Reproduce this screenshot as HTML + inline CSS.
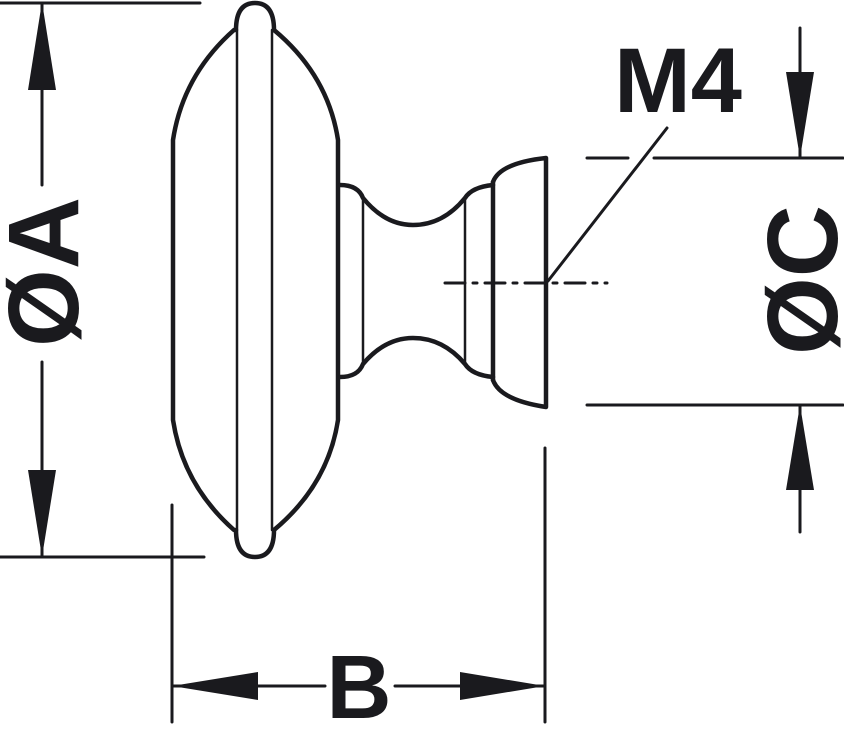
<!DOCTYPE html>
<html><head><style>html,body{margin:0;padding:0;background:#fff}svg{display:block}</style></head>
<body>
<svg width="844" height="730" viewBox="0 0 844 730" xmlns="http://www.w3.org/2000/svg">
<g fill="none" stroke="#1a1a1e" stroke-linecap="round" stroke-linejoin="round">
<g stroke-width="3">
<line x1="0" y1="3" x2="200" y2="3"/>
<line x1="0" y1="557" x2="204" y2="557"/>
<line x1="172" y1="505" x2="172" y2="722"/>
<line x1="545" y1="448" x2="545" y2="722"/>
<line x1="587" y1="158" x2="628" y2="158"/>
<line x1="654" y1="158" x2="843" y2="158"/>
<line x1="587" y1="405" x2="843" y2="405"/>
<line x1="42" y1="3" x2="42" y2="185"/>
<line x1="42" y1="362" x2="42" y2="557"/>
<line x1="172" y1="686" x2="325" y2="686"/>
<line x1="395" y1="686" x2="545" y2="686"/>
<line x1="800" y1="28" x2="800" y2="158"/>
<line x1="800" y1="405" x2="800" y2="532"/>
<line x1="548" y1="281" x2="667" y2="128"/>
<line x1="445" y1="283" x2="607" y2="283" stroke-dasharray="20,8,4,8"/>
</g>
<g stroke-width="4.5">
<path d="M234,30 Q183,75 173,140 L173,420 Q183,485 234,530"/>
<path d="M274,30 Q328,75 338,140 L338,420 Q328,485 274,530"/>
<path d="M236,30 Q236,3 255,3 Q274,3 274,30"/>
<path d="M236,530 Q236,557 255,557 Q274,557 274,530"/>
<path d="M340,185 Q358,185 363,198 Q385,225 413,225 Q443,225 465,198 Q472,187 493,185"/>
<path d="M340,377 Q358,377 363,364 Q385,338 413,338 Q443,338 465,364 Q472,375 493,377"/>
<line x1="493" y1="182" x2="493" y2="380"/>
<path d="M493,182 Q500,163 546,158 L546,407 Q500,400 493,380"/>
</g>
<g stroke-width="2.5">
<line x1="237" y1="30" x2="237" y2="530"/>
<line x1="272" y1="30" x2="272" y2="530"/>
<line x1="363" y1="198" x2="363" y2="364"/>
<line x1="465" y1="198" x2="465" y2="364"/>
</g>
</g>
<g fill="#1a1a1e">
<polygon points="42,2 28,90 56,90"/>
<polygon points="42,557 28,470 56,470"/>
<polygon points="172,686 258,672 258,700"/>
<polygon points="545,686 460,672 460,700"/>
<polygon points="800,158 786,72 814,72"/>
<polygon points="800,405 786,490 814,490"/>
</g>
<g font-family="Liberation Sans, sans-serif" font-weight="bold" fill="#1a1a1e" text-anchor="middle">
<text x="678" y="112" font-size="92">M4</text>
<text x="359" y="718" font-size="90">B</text>
<text transform="translate(78,272) rotate(-90)" font-size="100">ØA</text>
<text transform="translate(837,280) rotate(-90)" font-size="100">ØC</text>
</g>
</svg>
</body></html>
